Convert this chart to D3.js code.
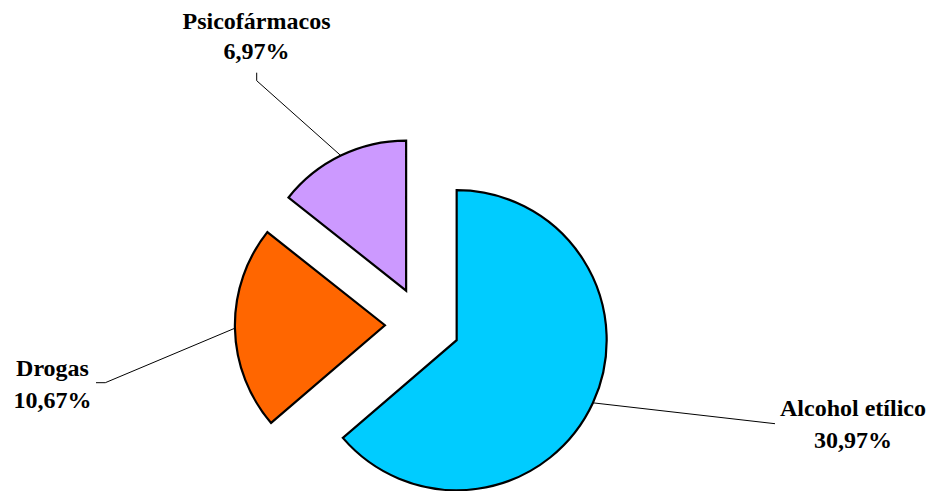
<!DOCTYPE html>
<html>
<head>
<meta charset="utf-8">
<script src="https://cdn.jsdelivr.net/npm/d3@7"></script>
</head>
<body style="margin:0;background:#fff">
<script>
const categories = ["Alcohol etílico", "Drogas", "Psicofármacos"];
const values = [30.97, 10.67, 6.97];
const valueLabels = ["30,97%", "10,67%", "6,97%"];
const colors = ["#00CCFF", "#FF6600", "#CC99FF"];

const W = 934, H = 491;
const cx = 422.5, cy = 324.5, R = 150, explode = 37.6;

// label layout (text anchor point and leader elbow), per slice
const labelLayout = [
  { tx: 853, ty1: 415.5, ty2: 447.5, elbow: [[775, 423.7]] },
  { tx: 52.5, ty1: 376, ty2: 407.5, elbow: [[105.3, 382.7], [96, 382.7]] },
  { tx: 256.5, ty1: 28.5, ty2: 59, elbow: [[256.7, 80.7], [256.7, 72.7]] }
];

const svg = d3.select("body").append("svg").attr("width", W).attr("height", H).style("display", "block");

const pie = d3.pie().sort(null).value(d => d).startAngle(0).endAngle(2 * Math.PI);
const arcs = pie(values);
const arc = d3.arc().innerRadius(0).outerRadius(R);

const g = svg.append("g").attr("transform", `translate(${cx},${cy})`);

function offset(d, dist) {
  const a = (d.startAngle + d.endAngle) / 2;
  return [Math.sin(a) * dist, -Math.cos(a) * dist];
}

g.selectAll("path.slice").data(arcs).enter().append("path")
  .attr("class", "slice")
  .attr("d", arc)
  .attr("transform", d => { const o = offset(d, explode); return `translate(${o[0]},${o[1]})`; })
  .attr("fill", (d, i) => colors[i])
  .attr("stroke", "#000")
  .attr("stroke-width", 2.2)
  .attr("stroke-linejoin", "miter");

arcs.forEach((d, i) => {
  const p = offset(d, explode + R);
  const pts = [[cx + p[0], cy + p[1]]].concat(labelLayout[i].elbow);
  svg.append("path")
    .attr("d", d3.line()(pts))
    .attr("fill", "none")
    .attr("stroke", "#000")
    .attr("stroke-width", 1);
  const L = labelLayout[i];
  [[L.ty1, categories[i]], [L.ty2, valueLabels[i]]].forEach(([y, t]) => {
    svg.append("text").attr("x", L.tx).attr("y", y).attr("text-anchor", "middle")
      .attr("font-family", "Liberation Serif").attr("font-weight", "bold")
      .style("font-family", "'Liberation Serif'").style("font-weight", "bold")
      .attr("font-size", 24).style("font-size", "24px").attr("fill", "#000").text(t);
  });
});
</script>
</body>
</html>
